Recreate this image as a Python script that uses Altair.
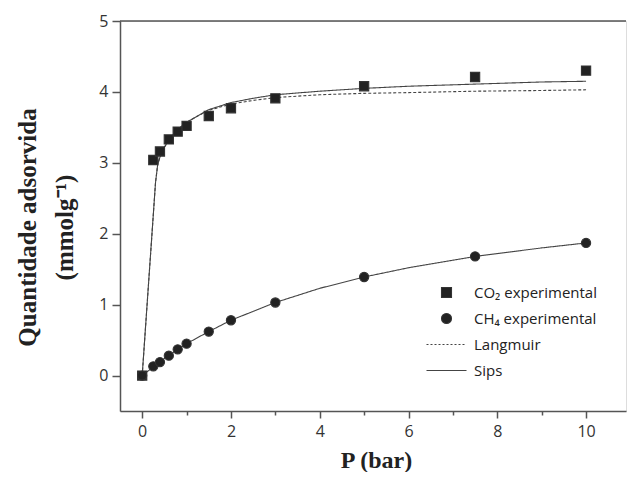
import altair as alt
import pandas as pd

# experimental data
P_exp = [0, 0.25, 0.4, 0.6, 0.8, 1.0, 1.5, 2, 3, 5, 7.5, 10]
co2_exp = [0, 3.04, 3.16, 3.33, 3.44, 3.52, 3.66, 3.77, 3.91, 4.08, 4.21, 4.30]
ch4_exp = [0, 0.13, 0.19, 0.28, 0.37, 0.45, 0.62, 0.78, 1.03, 1.39, 1.68, 1.87]

# fitted curves
P_fit_co2 = [0, 0.3, 0.35, 0.4, 0.5, 0.6, 0.8, 1.0, 1.25, 1.5, 2, 2.5, 3, 4, 5, 6, 7.5, 9, 10]
sips_co2 = [0, 2.72, 2.98, 3.08, 3.22, 3.32, 3.47, 3.57, 3.66, 3.75, 3.85, 3.91, 3.96, 4.01, 4.05, 4.08, 4.11, 4.14, 4.15]
langmuir_co2 = [0, 2.72, 2.98, 3.08, 3.22, 3.32, 3.47, 3.57, 3.66, 3.74, 3.83, 3.88, 3.92, 3.96, 3.98, 3.99, 4.01, 4.02, 4.03]
P_fit_ch4 = [0, 0.25, 0.5, 1, 1.5, 2, 3, 4, 5, 6, 7.5, 9, 10]
sips_ch4 = [0, 0.12, 0.24, 0.45, 0.62, 0.78, 1.03, 1.23, 1.39, 1.52, 1.68, 1.80, 1.87]

legend_labels = ["CO\u2082 experimental", "CH\u2084 experimental", "Langmuir", "Sips"]
frame_top = [5]

pts = pd.concat([
    pd.DataFrame({"P": P_exp, "q": co2_exp, "serie": legend_labels[0]}),
    pd.DataFrame({"P": P_exp, "q": ch4_exp, "serie": legend_labels[1]}),
])
fits = pd.concat([
    pd.DataFrame({"P": P_fit_co2, "q": langmuir_co2, "fit": "Langmuir CO2"}),
    pd.DataFrame({"P": P_fit_co2, "q": sips_co2, "fit": "Sips CO2"}),
    pd.DataFrame({"P": P_fit_ch4, "q": sips_ch4, "fit": "Sips CH4"}),
])

dash_path = " ".join(f"M{-4 + 0.8 * i:.1f},0h0.4" for i in range(10))
line_path = "M-4,0H4"

xscale = alt.Scale(domain=[-0.5, 10.9], nice=False, zero=False)
yscale = alt.Scale(domain=[-0.5, 5], nice=False, zero=False)

xaxis = alt.Axis(
    title="P (bar)", values=list(range(0, 11)), grid=False,
    labelExpr="datum.value % 2 === 0 ? format(datum.value, 'd') : ''",
    tickSize={"condition": {"test": "datum.value % 2 === 0", "value": 7}, "value": 4},
    titleFont="Liberation Serif", titleFontWeight="bold", titleFontSize=24,
    titleColor="#222", titlePadding=9, titleX=256,
    labelFont="Open Sans", labelFontSize=16, labelColor="#333", labelPadding=5,
    domainColor="#555", domainWidth=1.5, tickColor="#555", tickWidth=1.5,
)
yaxis = alt.Axis(
    title=["Quantidade adsorvida", "(mmolg\u207b\u00b9)"],
    values=[v / 2 for v in range(0, 11)], grid=False,
    labelExpr="datum.value % 1 === 0 ? format(datum.value, 'd') : ''",
    tickSize={"condition": {"test": "datum.value % 1 === 0", "value": 8}, "value": 4},
    titleFont="Liberation Serif", titleFontWeight="bold", titleFontSize=25,
    titleColor="#222", titlePadding=21, titleLineHeight=37, titleY=206,
    labelFont="Open Sans", labelFontSize=16, labelColor="#333", labelPadding=4,
    domainColor="#555", domainWidth=1.5, tickColor="#555", tickWidth=1.5,
)

lines = alt.Chart(fits).mark_line(strokeWidth=1.1, color="#444").encode(
    x=alt.X("P:Q", scale=xscale, axis=xaxis),
    y=alt.Y("q:Q", scale=yscale, axis=yaxis),
    strokeDash=alt.StrokeDash("fit:N", scale=alt.Scale(
        domain=["Langmuir CO2", "Sips CO2", "Sips CH4"],
        range=[[3, 2], [1, 0], [1, 0]]), legend=None),
    detail="fit:N",
)

leg = alt.Legend(
    title=None, orient="none", legendX=319, legendY=264,
    symbolSize=100, symbolStrokeWidth=1.1, labelFont="Open Sans", labelFontSize=15,
    labelColor="#222", labelOffset=20, rowPadding=10, padding=0, labelLimit=300,
)

points = alt.Chart(pts).mark_point(filled=True, size=85, opacity=1, strokeWidth=1.1).encode(
    x=alt.X("P:Q", scale=xscale),
    y=alt.Y("q:Q", scale=yscale),
    shape=alt.Shape("serie:N", scale=alt.Scale(
        domain=legend_labels, range=["square", "circle", dash_path, line_path]), legend=leg),
    fill=alt.Fill("serie:N", scale=alt.Scale(
        domain=legend_labels, range=["#222", "#222", "#222", "#222"]), legend=leg),
    stroke=alt.Stroke("serie:N", scale=alt.Scale(
        domain=legend_labels, range=["#333", "#333", "#444", "#444"]), legend=leg),
)

top = alt.Chart(pd.DataFrame({"y": frame_top})).mark_rule(color="#555", strokeWidth=1.5).encode(
    y=alt.Y("y:Q", scale=yscale)
)

chart = alt.layer(lines, points, top).properties(
    width=506, height=390, padding={"left": 7, "top": 5, "right": 0, "bottom": 0}
).configure_view(stroke=None).configure(background="white")

chart.save("out.html", embed_options={"renderer": "svg", "actions": False})
